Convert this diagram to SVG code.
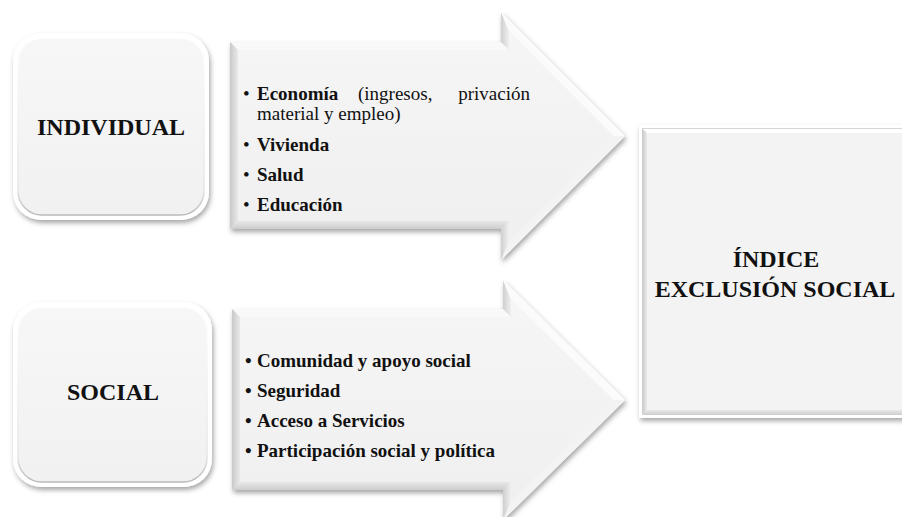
<svg xmlns="http://www.w3.org/2000/svg" width="902" height="517" viewBox="0 0 902 517">
  <defs>
    <filter id="shadow" x="-10%" y="-10%" width="130%" height="130%">
      <feDropShadow dx="1.5" dy="3" stdDeviation="2.5" flood-color="#000" flood-opacity="0.35"/>
    </filter>
    <linearGradient id="face" x1="0" y1="0" x2="0" y2="1">
      <stop offset="0" stop-color="#f6f6f6"/>
      <stop offset="1" stop-color="#efefef"/>
    </linearGradient>
    <linearGradient id="tileFace" x1="0" y1="0" x2="0" y2="1">
      <stop offset="0" stop-color="#f7f7f7"/>
      <stop offset="1" stop-color="#f1f1f1"/>
    </linearGradient>
    <linearGradient id="tileRim" x1="0" y1="0" x2="0" y2="1">
      <stop offset="0" stop-color="#ffffff"/>
      <stop offset="0.85" stop-color="#e6e6e6"/>
      <stop offset="1" stop-color="#b9b9b9"/>
    </linearGradient>
    <linearGradient id="leftEdge" x1="0" y1="0" x2="1" y2="0">
      <stop offset="0" stop-color="#c9c9c9"/>
      <stop offset="1" stop-color="#e9e9e9"/>
    </linearGradient>
    <linearGradient id="notchEdge" x1="0" y1="0" x2="1" y2="0">
      <stop offset="0" stop-color="#cfcfcf"/>
      <stop offset="1" stop-color="#f0f0f0"/>
    </linearGradient>
    <linearGradient id="bottomEdge" x1="0" y1="0" x2="0" y2="1">
      <stop offset="0" stop-color="#e8e8e8"/>
      <stop offset="1" stop-color="#cdcdcd"/>
    </linearGradient>
    <style>
      .title { font-family: "Liberation Serif", "Times New Roman", serif; font-weight: bold; font-size: 24px; fill: #111; text-anchor: middle; }
      .item { font-family: "Liberation Serif", "Times New Roman", serif; font-size: 19px; fill: #111; }
      .b { font-weight: bold; }
      .tile-rim { fill: #ffffff; }
      .tile-face { fill: url(#tileFace); stroke: url(#tileRim); stroke-width: 1.5; }
      .face { fill: url(#face); }
      .top { fill: #f9f9f9; }
      .diag-up { fill: #fbfbfb; }
      .diag-dn { fill: #f3f3f3; }
      .left { fill: url(#leftEdge); }
      .notch { fill: url(#notchEdge); }
      .bottom { fill: url(#bottomEdge); }
    </style>
  </defs>

  <rect width="902" height="517" fill="#ffffff"/>

  <!-- left category tiles -->
  <g id="individual">
    <rect class="tile-rim" x="13" y="33" width="196" height="187" rx="28" filter="url(#shadow)"/>
    <rect class="tile-face" x="18" y="38" width="186" height="177" rx="24"/>
    <text class="title" x="111" y="135">INDIVIDUAL</text>
  </g>

  <g id="social">
    <rect class="tile-rim" x="13" y="302" width="199" height="185" rx="28" filter="url(#shadow)"/>
    <rect class="tile-face" x="18" y="307" width="189" height="175" rx="24"/>
    <text class="title" x="113" y="400">SOCIAL</text>
  </g>

  <!-- beveled arrows carrying the dimension lists -->
  <g id="connectors">
    <g id="arrow-individual">
      <polygon class="face" points="230,42 501,42 501,12 625,136 501,260 501,229 230,229" filter="url(#shadow)"/>
      <polygon class="top" points="230,42 501,42 509,50 238,50"/>
      <polygon class="notch" points="501,42 501,12 509,31 509,50"/>
      <polygon class="diag-up" points="501,12 625,136 614,136 509,31"/>
      <polygon class="diag-dn" points="625,136 501,260 509,241 614,136"/>
      <polygon class="notch" points="501,260 501,229 509,221 509,241"/>
      <polygon class="bottom" points="501,229 230,229 238,221 509,221"/>
      <polygon class="left" points="230,229 230,42 238,50 238,221"/>
      <text class="item"><tspan x="243" y="100">•</tspan><tspan x="257" y="100" class="b">Economía</tspan><tspan x="358" y="100">(ingresos,</tspan><tspan x="530" y="100" text-anchor="end">privación</tspan></text>
      <text class="item" x="257" y="120">material y empleo)</text>
      <text class="item"><tspan x="243" y="151">•</tspan><tspan x="257" y="151" class="b">Vivienda</tspan></text>
      <text class="item"><tspan x="243" y="181">•</tspan><tspan x="257" y="181" class="b">Salud</tspan></text>
      <text class="item"><tspan x="243" y="211">•</tspan><tspan x="257" y="211" class="b">Educación</tspan></text>
    </g>

    <g id="arrow-social">
      <polygon class="face" points="232,309 503,309 503,280 625,400 503,520 503,490 232,490" filter="url(#shadow)"/>
      <polygon class="top" points="232,309 503,309 511,317 240,317"/>
      <polygon class="notch" points="503,309 503,280 511,299 511,317"/>
      <polygon class="diag-up" points="503,280 625,400 614,400 511,299"/>
      <polygon class="diag-dn" points="625,400 503,520 511,501 614,400"/>
      <polygon class="notch" points="503,520 503,490 511,482 511,501"/>
      <polygon class="bottom" points="503,490 232,490 240,482 511,482"/>
      <polygon class="left" points="232,490 232,309 240,317 240,482"/>
      <text class="item b"><tspan x="245" y="367">•</tspan><tspan x="257" y="367">Comunidad y apoyo social</tspan></text>
      <text class="item b"><tspan x="245" y="397">•</tspan><tspan x="257" y="397">Seguridad</tspan></text>
      <text class="item b"><tspan x="245" y="427">•</tspan><tspan x="257" y="427">Acceso a Servicios</tspan></text>
      <text class="item b"><tspan x="245" y="457">•</tspan><tspan x="257" y="457">Participación social y política</tspan></text>
    </g>
  </g>

  <!-- result box: white rim, narrow bevel, flat face -->
  <g id="indice">
    <rect x="639" y="125" width="280" height="293" fill="#ffffff" filter="url(#shadow)"/>
    <polygon class="left" points="642,128 647,133 647,410 642,415"/>
    <polygon class="bottom" points="642,415 647,410 919,410 919,415"/>
    <rect x="647" y="133" width="272" height="277" fill="#f3f3f3"/>
    <line x1="642" y1="128.5" x2="919" y2="128.5" stroke="#d6d6d6" stroke-width="1"/>
    <text class="title" x="776" y="267">ÍNDICE</text>
    <text class="title" x="775" y="297">EXCLUSIÓN SOCIAL</text>
  </g>
</svg>
